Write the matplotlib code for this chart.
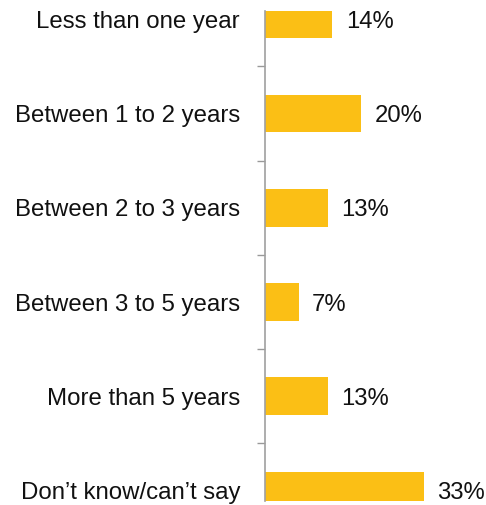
import matplotlib.pyplot as plt
import numpy as np

plt.rcParams['font.family'] = ['Liberation Sans', 'DejaVu Sans']

categories = ['Less than one year', 'Between 1 to 2 years', 'Between 2 to 3 years',
              'Between 3 to 5 years', 'More than 5 years', "Don\u2019t know/can\u2019t say"]
shares = [14, 20, 13, 7, 13, 33]
labels = ['14%', '20%', '13%', '7%', '13%', '33%']

fig = plt.figure(figsize=(4.86, 5.05), dpi=100)
# axes box: left edge at the value axis, rows clipped at top and bottom
ax = fig.add_axes([265 / 486, 4 / 505, 221 / 486, 490 / 505])

y = np.arange(len(categories))
ax.barh(y, shares, height=0.40, color='#FBBF15', edgecolor='none')

for yi, v, lab in zip(y, shares, labels):
    ax.text(v + 2.8, yi, lab, va='center_baseline', ha='left', fontsize=17.2, color='#111111')

ax.set_xlim(0, 221 / 4.82)
ax.set_ylim(5.11, -0.0875)

ax.set_yticks(y)
ax.set_yticklabels(categories, fontsize=17.3, color='#111111')
ax.set_yticks(np.arange(0.5, len(categories) - 1, 1), minor=True)
ax.tick_params(axis='y', which='major', length=0, pad=18)
ax.tick_params(axis='y', which='minor', length=6, width=1, color='#999999')
ax.set_xticks([])

for s in ['top', 'right', 'bottom']:
    ax.spines[s].set_visible(False)
ax.spines['left'].set_color('#A0A0A0')
ax.spines['left'].set_linewidth(1.2)

fig.savefig('out.png', dpi=100)
